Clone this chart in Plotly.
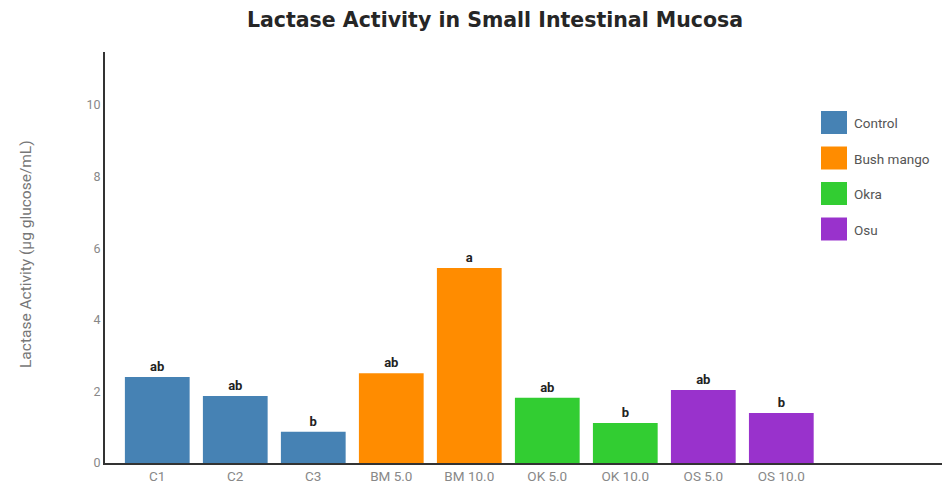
import plotly.graph_objects as go

# Group definitions and measured lactase activity
groups = ["Control", "Bush mango", "Okra", "Osu"]
group_colors = ["#4682B4", "#FF8C00", "#32CD32", "#9932CC"]

categories = ["C1", "C2", "C3", "BM 5.0", "BM 10.0", "OK 5.0", "OK 10.0", "OS 5.0", "OS 10.0"]
category_group = ["Control", "Control", "Control", "Bush mango", "Bush mango",
                  "Okra", "Okra", "Osu", "Osu"]
activity = [2.40, 1.87, 0.87, 2.51, 5.45, 1.82, 1.12, 2.04, 1.40]
significance = ["ab", "ab", "b", "ab", "a", "ab", "b", "ab", "b"]

y_ticks = [0, 2, 4, 6, 8, 10]

color_of = dict(zip(groups, group_colors))
FONT = "Roboto"

fig = go.Figure()
fig.add_trace(go.Bar(
    x=categories,
    y=activity,
    marker=dict(color=[color_of[g] for g in category_group], line=dict(width=0)),
    text=significance,
    textposition="outside",
    textfont=dict(family=FONT, size=13, color="#222", weight="bold"),
    cliponaxis=False,
    showlegend=False,
    hoverinfo="x+y",
))

# Custom legend: large colour swatches with labels at the right
W, H = 942, 495
m_l, m_r, m_t, m_b = 105, 0, 52, 32
pw, ph = W - m_l - m_r, H - m_t - m_b

def px_x(x):
    return (x - m_l) / pw

def px_y(y):
    return 1 - (y - m_t) / ph

for i, (name, col) in enumerate(zip(groups, group_colors)):
    top = 111 + i * 35.5
    fig.add_shape(type="rect", xref="paper", yref="paper",
                  x0=px_x(821), x1=px_x(847), y0=px_y(top + 23), y1=px_y(top),
                  fillcolor=col, line=dict(width=0))
    fig.add_annotation(xref="paper", yref="paper", x=px_x(852), y=px_y(top + 12),
                       text=name, showarrow=False, xanchor="left", yanchor="middle",
                       font=dict(family=FONT, size=13.5, color="#555"))

# Y-axis title placed as rotated text at the far left
fig.add_annotation(xref="paper", yref="paper", x=px_x(26), y=px_y(254),
                   text="Lactase Activity (µg glucose/mL)", textangle=-90,
                   showarrow=False, xanchor="center", yanchor="middle",
                   font=dict(family=FONT, size=15.5, color="#777"))

fig.update_layout(
    width=W, height=H,
    margin=dict(l=m_l, r=m_r, t=m_t, b=m_b),
    paper_bgcolor="white", plot_bgcolor="white",
    bargap=0.17,
    title=dict(text="Lactase Activity in Small Intestinal Mucosa",
               x=0.5255, xanchor="center", y=1 - 20 / H, yanchor="middle",
               font=dict(family="DejaVu Sans", size=20.5, color="#262626", weight="bold")),
    font=dict(family=FONT, color="#777"),
    xaxis=dict(
        type="category",
        range=[-0.67, 10.06],
        showgrid=False, showline=True, linecolor="#333", linewidth=2,
        ticks="", tickfont=dict(size=13.5, color="#888"),
        zeroline=False,
    ),
    yaxis=dict(
        range=[0, 11.48],
        tickvals=y_ticks,
        showgrid=False, showline=True, linecolor="#333", linewidth=2,
        ticks="", tickfont=dict(size=12.5, color="#888"),
        zeroline=False,
    ),
)

fig.write_html("out.html")
